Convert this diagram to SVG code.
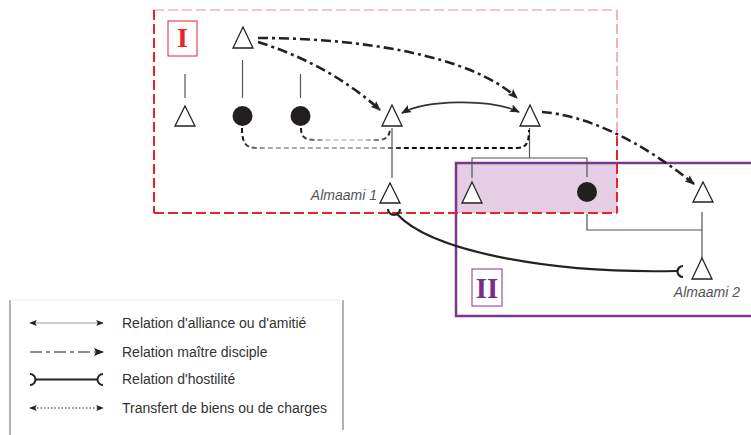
<svg xmlns="http://www.w3.org/2000/svg" width="751" height="435" viewBox="0 0 751 435">
<style>
.tri{fill:#fff;stroke:#222;stroke-width:1.3}
.dot{fill:#231f20}
.kin{fill:none;stroke:#555;stroke-width:1.2}
.md{fill:none;stroke:#222;stroke-width:2.6;stroke-dasharray:10 4 3 4}
.al{fill:none;stroke:#333;stroke-width:1.6}
.hs{fill:none;stroke:#222;stroke-width:2.2}
.tr{fill:none;stroke-width:2;stroke-dasharray:5 3}
.lbl{font-family:"Liberation Sans",Arial,sans-serif;font-size:14px;fill:#333}
.nm{font-family:"Liberation Sans",Arial,sans-serif;font-size:14px;font-style:italic;fill:#555}
</style>
<defs>
<marker id="arr" viewBox="0 0 10 8" refX="9" refY="4" markerWidth="10" markerHeight="8" markerUnits="userSpaceOnUse" orient="auto-start-reverse">
<path d="M0,0 L10,4 L0,8 L2,4 z" fill="#222"/>
</marker>
<marker id="arrS" viewBox="0 0 10 8" refX="9" refY="4" markerWidth="8" markerHeight="6" markerUnits="userSpaceOnUse" orient="auto-start-reverse">
<path d="M0,0 L10,4 L0,8 L2,4 z" fill="#222"/>
</marker>
<linearGradient id="gDE" gradientUnits="userSpaceOnUse" x1="300" y1="0" x2="392" y2="0">
<stop offset="0" stop-color="#111"/>
<stop offset="0.3" stop-color="#ccc"/>
<stop offset="0.7" stop-color="#ccc"/>
<stop offset="1" stop-color="#111"/>
</linearGradient>
<linearGradient id="gCF" gradientUnits="userSpaceOnUse" x1="242" y1="0" x2="530" y2="0">
<stop offset="0" stop-color="#111"/>
<stop offset="0.08" stop-color="#aaa"/>
<stop offset="0.48" stop-color="#aaa"/>
<stop offset="0.56" stop-color="#111"/>
<stop offset="1" stop-color="#111"/>
</linearGradient>
<linearGradient id="gR" gradientUnits="userSpaceOnUse" x1="0" y1="10" x2="0" y2="213">
<stop offset="0" stop-color="#f7b3b7"/>
<stop offset="0.58" stop-color="#f7b3b7"/>
<stop offset="0.64" stop-color="#e8222a"/>
<stop offset="1" stop-color="#e8222a"/>
</linearGradient>
</defs>

<g id="group-II">
<rect x="456" y="163" width="161" height="50" fill="#e5cde3"/>
<path d="M751,163 L456,163 L456,316 L751,316" fill="none" stroke="#7d3590" stroke-width="2.5"/>
<rect x="472" y="269" width="30" height="37" fill="none" stroke="#7d3590" stroke-width="1"/>
<text x="487" y="298" text-anchor="middle" font-family="'Liberation Serif','Times New Roman',serif" font-weight="bold" font-size="29" fill="#7d2a8e">II</text>
</g>

<g id="group-I">
<line x1="154" y1="10" x2="617" y2="10" stroke="#f7b3b7" stroke-width="1.5" stroke-dasharray="10 4"/>
<line x1="154" y1="10" x2="154" y2="213" stroke="#e8222a" stroke-width="2" stroke-dasharray="10 4"/>
<line x1="154" y1="213" x2="617" y2="213" stroke="#e8222a" stroke-width="2.2" stroke-dasharray="10 4"/>
<line x1="617" y1="10" x2="617" y2="213" stroke="url(#gR)" stroke-width="2" stroke-dasharray="10 4"/>
<rect x="168" y="21" width="29" height="35" fill="none" stroke="#e8222a" stroke-width="1"/>
<text x="182.5" y="47" text-anchor="middle" font-family="'Liberation Serif','Times New Roman',serif" font-weight="bold" font-size="28" fill="#e8222a">I</text>
</g>

<g id="kinship-lines">
<line class="kin" x1="185" y1="74" x2="185" y2="98"/>
<line class="kin" x1="242.5" y1="60" x2="242.5" y2="98"/>
<line class="kin" x1="300.5" y1="74" x2="300.5" y2="98"/>
<line class="kin" x1="392" y1="128" x2="392" y2="178" stroke="#888"/>
<path class="kin" d="M529.5,128 V158 M472,178 V158 H587 V177"/>
<path class="kin" d="M587,214 V230 H702 M702,212 V258"/>
</g>

<g id="connectors">
<path class="md" d="M258,38 C360,38 470,55 517,98" marker-end="url(#arr)"/>
<path class="md" d="M258,42 C300,55 345,78 380,110" marker-end="url(#arr)"/>
<path class="md" d="M542,112 C585,115 640,140 694,184" marker-end="url(#arr)"/>
<path class="al" d="M402,113 C425,100 490,98 519,112" marker-start="url(#arr)" marker-end="url(#arr)"/>
<path class="tr" stroke="url(#gDE)" d="M301,128 C301,137 305,140 315,140 L378,140 C387,140 390,135 390,128"/>
<path class="tr" stroke="url(#gCF)" d="M242,128 C242,143 246,148 256,148 L517,148 C526,148 529,143 529,130"/>
<path class="hs" d="M388,209 A6,6 0 0 0 400,209"/>
<path class="hs" d="M397,214 C430,250 545,274 677,271"/>
<path class="hs" d="M683,266 A5.5,5.5 0 0 0 683,277"/>
</g>

<g id="node-A"><polygon class="tri" points="243,27 253,48 233,48"/></g>
<g id="node-B"><polygon class="tri" points="185,106 195,126 175,126"/></g>
<g id="node-C"><circle class="dot" cx="242.5" cy="116" r="10"/></g>
<g id="node-D"><circle class="dot" cx="300.5" cy="116" r="10"/></g>
<g id="node-E"><polygon class="tri" points="392,105 402,126 382,126"/></g>
<g id="node-F"><polygon class="tri" points="530,105 540,126 520,126"/></g>
<g id="node-almaami1">
<polygon class="tri" points="390,183 400,203 380,203"/>
<text class="nm" x="377" y="200" text-anchor="end">Almaami 1</text>
</g>
<g id="node-G"><polygon class="tri" points="472,182 482,203 462,203"/></g>
<g id="node-H"><circle class="dot" cx="587" cy="192" r="10"/></g>
<g id="node-J"><polygon class="tri" points="703,182 713,202 693,202"/></g>
<g id="node-almaami2">
<polygon class="tri" points="702,258 712,279 692,279"/>
<text class="nm" x="740" y="297" text-anchor="end">Almaami 2</text>
</g>

<g id="legend">
<path d="M10,300 V435 M343,300 V430" fill="none" stroke="#999" stroke-width="1.5"/>
<line x1="10" y1="300" x2="343" y2="300" stroke="#eee" stroke-width="1"/>
<line x1="30" y1="323" x2="103" y2="323" stroke="#999" stroke-width="1" marker-start="url(#arrS)" marker-end="url(#arrS)"/>
<line x1="30" y1="352" x2="103" y2="352" stroke="#222" stroke-width="1.2" stroke-dasharray="12 4 4 4" marker-end="url(#arr)"/>
<path d="M30,374 A5.5,5.5 0 0 1 30,385 M35.5,379.5 H97.5 M103,374 A5.5,5.5 0 0 0 103,385" fill="none" stroke="#222" stroke-width="2"/>
<line x1="30" y1="408" x2="103" y2="408" stroke="#222" stroke-width="1.2" stroke-dasharray="1.5 2" marker-start="url(#arrS)" marker-end="url(#arrS)"/>
<text class="lbl" x="122" y="328">Relation d'alliance ou d'amitié</text>
<text class="lbl" x="122" y="357">Relation maître disciple</text>
<text class="lbl" x="122" y="384">Relation d'hostilité</text>
<text class="lbl" x="122" y="413">Transfert de biens ou de charges</text>
</g>
</svg>
